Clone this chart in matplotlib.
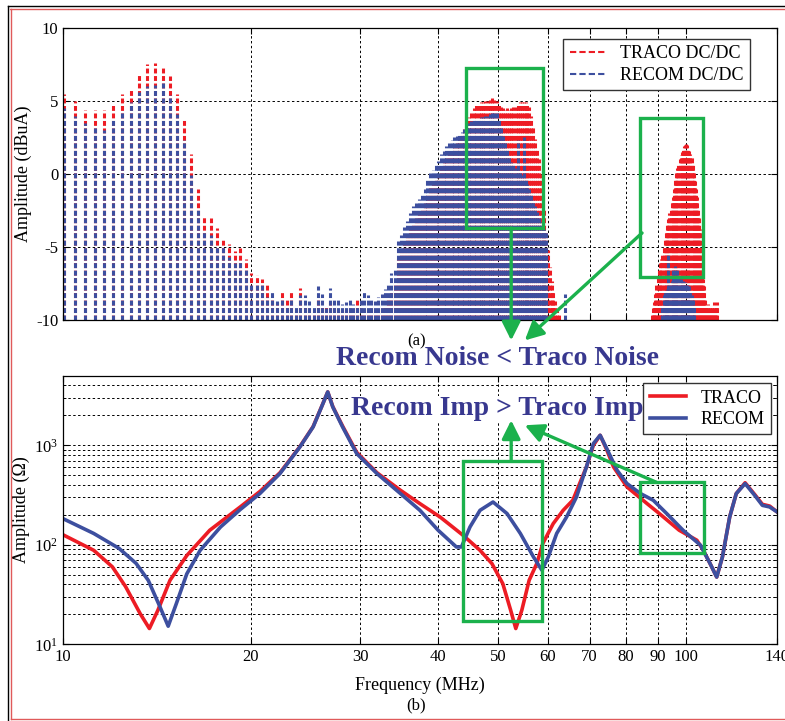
import numpy as np
import matplotlib
matplotlib.use('Agg')
import matplotlib.pyplot as plt
from matplotlib.patches import Rectangle
from matplotlib.lines import Line2D
from matplotlib.ticker import NullLocator, NullFormatter, LogLocator

plt.rcParams['font.family'] = 'Liberation Serif'
plt.rcParams['mathtext.fontset'] = 'stix'
plt.rcParams['axes.unicode_minus'] = False

# ---- (a) conducted noise spectrum, harmonics every 0.4 MHz ----
harm_f0 = 10.05      # first harmonic shown (MHz)
harm_step = 0.4      # switching harmonic spacing (MHz)

# harmonics 10.05 .. 64.05 MHz (dBuA)
traco_a = [5.5, 5.0, 4.4, 4.4, 4.4, 4.7, 5.5, 5.8, 6.8, 7.5,
           7.6, 7.4, 6.7, 5.5, 3.75, 1.4, -1.05, -2.85, -3.0, -3.7,
           -4.4, -4.8, -5.3, -5.1, -5.8, -6.8, -6.9, -7.2, -7.5, -8.5,
           -8.8, -8.0, -8.6, -8.0, -9.3, -7.8, -9.0, -9.2, -9.4, -8.5,
           -9.0, -9.1, -8.8, -9.2, -9.3, -9.4, -9.3, -9.2, -9.4, -8.6,
           -9.2, -9.3, -9.4, -9.2, -9.4, -9.3, -9.2, -9.0, -8.5, -8.0,
           -7.5, -5.8, -5.2, -4.8, -4.3, -3.8, -3.4, -3.0, -2.7, -2.4,
           -2.0, -1.4, -0.9, -0.6, -0.3, 0.0, 0.5, 0.8, 1.1, 1.4,
           1.6, 1.9, 2.1, 2.4, 2.7, 3.1, 3.5, 3.9, 4.3, 4.5,
           4.7, 4.8, 4.9, 4.9, 5.0, 5.0, 5.1, 5.2, 5.1, 5.0,
           4.8, 4.6, 4.5, 4.4, 4.5, 4.4, 4.5, 4.6, 4.6, 4.8,
           4.9, 4.9, 4.9, 4.9, 4.8, 4.6, 4.0, 3.3, 2.4, 1.7,
           1.0, 0.0, -1.3, -2.5, -4.0, -5.2, -6.4, -7.3, -8.0, -8.7,
           -9.3, -9.6, -10, -10, -10, -10]
recom_a = [4.5, 4.0, 3.5, 3.3, 3.0, 3.8, 4.3, 4.9, 5.6, 6.0,
           6.1, 6.3, 5.4, 4.1, 2.3, -0.1, -2.35, -3.95, -4.2, -5.0,
           -5.0, -5.7, -6.1, -5.9, -6.6, -7.6, -7.6, -7.5, -8.4, -8.1,
           -8.7, -8.5, -9.0, -8.5, -9.0, -8.3, -8.3, -8.7, -9.1, -7.7,
           -8.2, -9.2, -7.8, -8.6, -8.6, -8.9, -8.8, -8.6, -8.9, -9.0,
           -8.6, -8.0, -8.3, -8.6, -8.7, -8.4, -8.2, -7.9, -7.5, -6.8,
           -6.6, -4.6, -4.2, -3.6, -3.2, -2.7, -2.2, -2.0, -1.7, -1.3,
           -1.0, -0.4, 0.1, 0.3, 0.6, 0.9, 1.4, 1.6, 1.9, 2.1,
           2.3, 2.5, 2.6, 2.8, 2.9, 3.1, 3.3, 3.5, 3.6, 3.7,
           3.8, 3.8, 3.9, 3.9, 4.0, 4.0, 4.1, 4.2, 4.3, 4.2,
           3.8, 3.2, 2.6, 2.2, 1.8, 1.2, 0.8, 0.6, 0.4, 2.3,
           0.2, -0.1, 2.5, -0.4, -0.7, -1.0, -1.4, -1.8, -2.2, -2.6,
           -3.0, -3.3, -3.5, -3.8, -4.0, -10, -10, -10, -10, -10,
           -10, -10, -10, -10, -10, -8.2]

# harmonics 88.05 .. 112.05 MHz (dBuA)
harm_b_start = 88.05
traco_b = [-9.6, -9.2, -8.8, -8.2, -7.6, -7.0, -6.5, -6.1, -5.8, -5.4,
           -5.0, -4.4, -3.9, -3.5, -3.1, -2.7, -2.3, -1.9, -1.6, -1.0,
           -0.4, 0.1, 0.4, 0.7, 1.0, 1.3, 1.5, 1.7, 1.9, 2.0,
           2.05, 2.0, 1.8, 1.6, 1.4, 1.2, 0.7, 0.1, -0.5, -1.0,
           -1.6, -2.3, -3.0, -3.8, -5.0, -6.5, -7.2, -7.7, -8.6, -9.0,
           -9.2, -8.9, -9.4, -9.1, -9.5, -9.0, -9.3, -8.8, -9.4, -9.0, -8.8]
recom_b = [-10, -10, -10, -10, -10, -10, -10, -10, -10, -9.0,
           -8.3, -8.0, -8.5, -7.9, -5.5, -7.6, -7.5, -7.3, -6.6, -7.2,
           -6.3, -7.0, -6.6, -7.1, -7.3, -7.2, -7.4, -7.3, -7.5, -7.4,
           -7.6, -7.5, -7.8, -7.7, -8.0, -8.3, -8.6, -9.0, -10, -10,
           -10, -10, -10, -10, -10, -10, -10, -10, -10, -10,
           -10, -10, -10, -10, -10, -10, -10, -10, -10, -10, -10]

# ---- (b) impedance curves ----
traco_f = [10.0, 11.2, 12.0, 12.6, 13.3, 13.76, 14.2, 14.85, 15.8, 17.2,
           19.25, 20.7, 22.3, 24.0, 25.2, 26.0, 26.6, 27.1, 28.1, 29.6,
           31.9, 34.8, 37.4, 40.3, 43.9, 46.7, 48.8, 50.8, 52.3, 53.3,
           54.5, 56.0, 57.6, 58.9, 61.2, 63.5, 65.8, 69.2, 71.0, 72.8,
           74.6, 76.5, 80.4, 86.6, 90.6, 97.5, 104.1, 106.6, 109.3, 112.0,
           114.4, 117.5, 120.4, 124.4, 128.9, 132.6, 136.2, 140.0]
traco_z = [126, 88, 60, 38, 20.3, 14.4, 22, 44, 78, 140,
           240, 343, 530, 970, 1540, 2440, 3434, 2450, 1560, 850,
           530, 353, 259, 190, 124, 88, 64.7, 40.7, 22, 14.4,
           22, 44, 64.7, 103, 163, 222, 280, 605, 1000, 1260,
           900, 605, 381, 259, 206, 140, 111, 88, 64.7, 47.4,
           75.5, 190, 327, 420, 320, 255, 245, 214]
recom_f = [10.0, 11.2, 12.3, 13.1, 13.7, 14.3, 14.75, 15.2, 15.8, 16.6,
           17.9, 19.25, 20.7, 22.3, 24.0, 25.2, 26.0, 26.6, 27.1, 28.1,
           29.6, 31.9, 34.8, 37.4, 40.0, 42.8, 43.6, 45.0, 46.7, 49.0,
           51.6, 54.2, 56.9, 58.7, 60.1, 62.0, 64.3, 66.7, 69.2, 71.0,
           72.8, 74.6, 77.5, 80.4, 84.5, 88.6, 93.1, 98.9, 105.5, 109.3,
           112.0, 114.4, 117.5, 120.4, 124.4, 128.9, 132.6, 136.2, 140.0]
recom_z = [183, 130, 92, 65, 44, 24, 15.2, 25.6, 51, 88,
           151, 226, 327, 520, 962, 1528, 2427, 3434, 2427, 1528,
           826, 520, 327, 222, 140, 95, 95, 151, 222, 269,
           206, 130, 75.5, 55.5, 75.5, 130, 190, 302, 605, 1040,
           1260, 927, 561, 412, 327, 280, 206, 140, 99, 64.7,
           47.4, 75.5, 190, 327, 412, 314, 249, 240, 214]

freq_ticks = [10, 20, 30, 40, 50, 60, 70, 80, 90, 100, 140]

red = '#ed1c24'
blue = '#3d4f9f'
green = '#1bb14c'
navy = '#38388f'
grid_ls = (0, (2.5, 2.5))

fig = plt.figure(figsize=(7.85, 7.21), dpi=100)
ax1 = fig.add_axes([0.0803, 0.5562, 0.9096, 0.405])
ax2 = fig.add_axes([0.0803, 0.1064, 0.9096, 0.3725])

# top panel
fa = harm_f0 + harm_step * np.arange(len(traco_a))
fb = harm_b_start + harm_step * np.arange(len(traco_b))
dash = (0, (1.6, 0.85))
for f, vals, col in [(fa, traco_a, red), (fb, traco_b, red),
                     (fa, recom_a, blue), (fb, recom_b, blue)]:
    ax1.vlines(f, -10, vals, colors=col, linestyles=dash, lw=2.2)

ax1.set_xscale('log')
ax1.set_xlim(10, 140)
ax1.set_ylim(-10, 10)
ax1.set_xticks(freq_ticks)
ax1.xaxis.set_minor_locator(NullLocator())
ax1.tick_params(labelbottom=False)
ax1.set_yticks([-10, -5, 0, 5, 10])
ax1.set_ylabel('Amplitude (dBuA)', fontsize=13, labelpad=3)
ax1.grid(True, color='k', ls=grid_ls, lw=0.7)
ax1.set_axisbelow(True)
h1 = [Line2D([], [], color=red, ls=(0, (3, 1.5)), lw=1.5),
      Line2D([], [], color=blue, ls=(0, (3, 1.5)), lw=1.5)]
ax1.legend(h1, ['TRACO DC/DC', 'RECOM DC/DC'], loc='upper right',
           bbox_to_anchor=(0.962, 0.962), borderaxespad=0, fontsize=13,
           fancybox=False, framealpha=1, edgecolor='#333333',
           handlelength=2.0, borderpad=0.35, labelspacing=0.25)

# bottom panel
ax2.plot(traco_f, traco_z, color=red, lw=2.6, label='TRACO')
ax2.plot(recom_f, recom_z, color=blue, lw=2.6, label='RECOM')
ax2.set_xscale('log')
ax2.set_yscale('log')
ax2.set_xlim(10, 140)
ax2.set_ylim(10, 5000)
ax2.set_xticks(freq_ticks)
ax2.set_xticklabels([str(t) for t in freq_ticks])
ax2.xaxis.set_minor_locator(NullLocator())
ax2.yaxis.set_major_locator(LogLocator(base=10))
ax2.yaxis.set_minor_locator(LogLocator(base=10, subs=np.arange(2, 10)))
ax2.yaxis.set_minor_formatter(NullFormatter())
ax2.set_ylabel('Amplitude (Ω)', fontsize=13, labelpad=3)
ax2.set_xlabel('Frequency (MHz)', fontsize=13, labelpad=8)
ax2.grid(True, which='both', color='k', ls=grid_ls, lw=0.7)
ax2.set_axisbelow(True)
ax2.legend(loc='upper right', bbox_to_anchor=(0.991, 0.972), borderaxespad=0,
           fontsize=13, fancybox=False, framealpha=1, edgecolor='#333333',
           handlelength=2.0, borderpad=0.35, labelspacing=0.25)

for ax in (ax1, ax2):
    ax.tick_params(which='both', direction='in', top=True, right=True,
                   labelsize=12, length=4)
    ax.tick_params(which='minor', length=2)
    for s in ax.spines.values():
        s.set_linewidth(0.9)

# green highlight boxes and arrows
box_kw = dict(fill=False, edgecolor=green, lw=2.4, zorder=5)
ax1.add_patch(Rectangle((44.3, -3.7), 59.0 - 44.3, 7.26 + 3.7, **box_kw))
ax1.add_patch(Rectangle((84.4, -7.05), 106.4 - 84.4, 3.84 + 7.05, **box_kw))
ax2.add_patch(Rectangle((43.9, 17.0), 58.8 - 43.9, 695 - 17.0, **box_kw))
ax2.add_patch(Rectangle((84.4, 82.2), 106.8 - 84.4, 425 - 82.2, **box_kw))

arr = dict(arrowstyle='-|>,head_length=0.7,head_width=0.35', color=green,
           lw=2.4, shrinkA=0, shrinkB=0, mutation_scale=16)
ax1.annotate('', xy=(52.4, -11.4), xytext=(52.4, -3.7), arrowprops=arr,
             annotation_clip=False, zorder=6)
ax1.annotate('', xy=(55.1, -11.4), xytext=(85.0, -4.04), arrowprops=arr,
             annotation_clip=False, zorder=6)
ax2.annotate('', xy=(52.4, 1783), xytext=(52.4, 695), arrowprops=arr,
             annotation_clip=False, zorder=6)
ax2.annotate('', xy=(55.1, 1589), xytext=(89.6, 425), arrowprops=arr,
             annotation_clip=False, zorder=6)

fig.text(417 / 785, 1 - 341 / 721, '(a)', fontsize=12, ha='center', va='center')
fig.text(416 / 785, 1 - 705 / 721, '(b)', fontsize=12, ha='center', va='center')
fig.text(498 / 785, 1 - 365 / 721, 'Recom Noise < Traco Noise', fontsize=20,
         fontweight='bold', color=navy, ha='center', va='baseline')
ax2.text(497 / 785, 1 - 415.4 / 721, 'Recom Imp > Traco Imp', fontsize=20,
         fontweight='bold', color=navy, ha='center', va='baseline',
         transform=fig.transFigure, zorder=5,
         bbox=dict(facecolor='white', edgecolor='none', pad=0.5))

# outer page frame
W, H = 785.0, 721.0
frame = [((8, 785), (6, 6), 'k'), ((8, 8), (6, 721), 'k'),
         ((10, 785), (8.5, 8.5), '#e05a5a'), ((10.5, 10.5), (8.5, 719), '#e05a5a'),
         ((10.5, 785), (719, 719), '#e05a5a')]
for xs, ys, c in frame:
    fig.add_artist(Line2D([x / W for x in xs], [1 - y / H for y in ys],
                          color=c, lw=1.0, transform=fig.transFigure))

fig.savefig('out.png', dpi=100)
